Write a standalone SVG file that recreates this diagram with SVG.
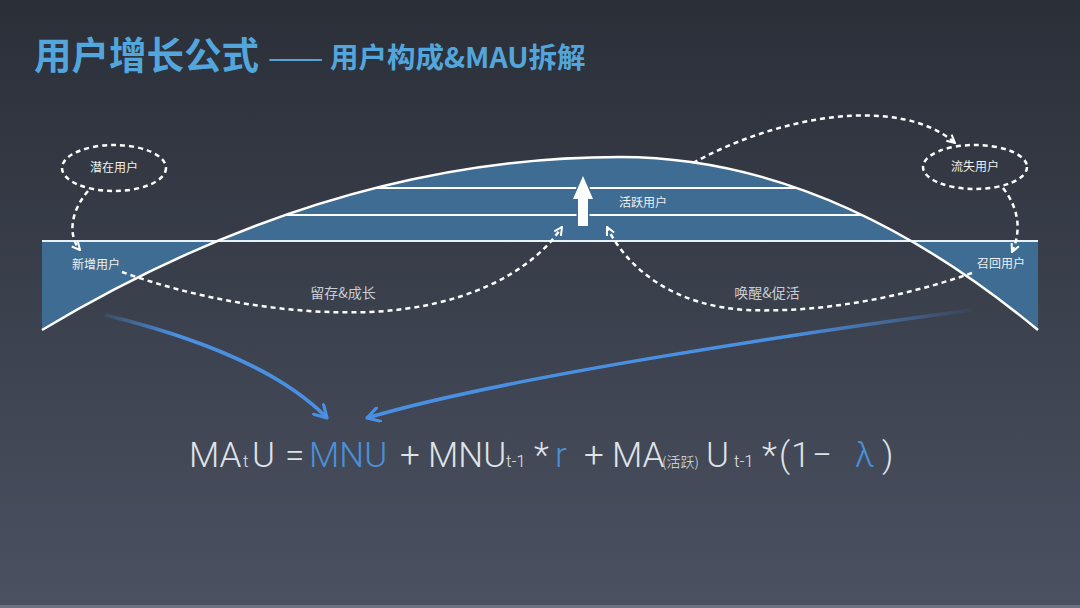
<svg xmlns="http://www.w3.org/2000/svg" width="1080" height="608" viewBox="0 0 1080 608">
  <defs>
    <linearGradient id="bg" x1="0" y1="0" x2="0" y2="1">
      <stop offset="0" stop-color="#2a2f38"/>
      <stop offset="1" stop-color="#4b5161"/>
    </linearGradient>
    <linearGradient id="blueL" gradientUnits="userSpaceOnUse" x1="105" y1="315" x2="327" y2="418">
      <stop offset="0" stop-color="#4a90e2" stop-opacity="0.15"/>
      <stop offset="0.3" stop-color="#4a90e2" stop-opacity="1"/>
      <stop offset="1" stop-color="#4a90e2"/>
    </linearGradient>
    <linearGradient id="blueR" gradientUnits="userSpaceOnUse" x1="972" y1="310" x2="367" y2="418">
      <stop offset="0" stop-color="#4a90e2" stop-opacity="0.05"/>
      <stop offset="0.3" stop-color="#4a90e2" stop-opacity="1"/>
      <stop offset="1" stop-color="#4a90e2"/>
    </linearGradient>
    <marker id="chev" viewBox="0 0 10 10" refX="9" refY="5" markerWidth="10" markerHeight="10" markerUnits="userSpaceOnUse" orient="auto">
      <path d="M1,1 L9,5 L1,9" fill="none" stroke="#ffffff" stroke-width="2"/>
    </marker>
    <marker id="bchev" viewBox="0 0 16 16" refX="14" refY="8" markerWidth="16" markerHeight="16" markerUnits="userSpaceOnUse" orient="auto">
      <path d="M2,1 L14,8 L2,15" fill="none" stroke="#4a90e2" stroke-width="3.2" stroke-linecap="round" stroke-linejoin="round"/>
    </marker>
    <style>
      .lbl { font-family: "Noto Sans CJK SC", "Noto Sans", sans-serif; font-size: 12px; fill: #f0f0f0; }
      .mid { font-family: "Noto Sans CJK SC", "Noto Sans", sans-serif; font-size: 14px; fill: #c9cdd3; }
      .dash { fill: none; stroke: #ffffff; stroke-width: 2.5; stroke-dasharray: 5 4; }
      .wline { stroke: #ffffff; stroke-width: 2.5; fill: none; }
      .f { font-family: Roboto, "Liberation Sans", sans-serif; font-weight: 300; font-size: 35px; fill: #dfe2e7; }
      .fs { font-size: 17px; }
      .fc { font-family: "Noto Sans CJK SC", sans-serif; font-size: 14px; }
      .fb { fill: #4a90d9; }
      .tt { font-family: "Noto Sans CJK SC", sans-serif; fill: #52a6dc; }
    </style>
  </defs>

  <rect x="0" y="0" width="1080" height="608" fill="url(#bg)"/>
  <rect x="0" y="605" width="1080" height="3" fill="#6b7282"/>

  <g id="title">
    <text x="34" y="69" class="tt" font-weight="bold" font-size="37.5">用户增长公式</text>
    <text x="268" y="69" class="tt" font-size="33">——</text>
    <text x="330" y="68" class="tt" font-weight="bold" font-size="28.5">用户构成&amp;MAU拆解</text>
  </g>

  <g id="funnel">
    <path d="M42,330 Q331,157 620,157 Q829,157 1038,330 Z M42,241 H1038 V330 H42 Z" fill="#3f6c92" fill-rule="evenodd"/>
    <line x1="42" y1="241" x2="1038" y2="241" stroke="#e6f2f7" stroke-width="2.2"/>
    <line x1="375" y1="188" x2="797" y2="188" stroke="#ffffff" stroke-width="2.2"/>
    <line x1="285" y1="215" x2="862" y2="215" stroke="#ffffff" stroke-width="2.2"/>
    <path d="M42,330 Q331,157 620,157 Q829,157 1038,330" class="wline"/>
    <path d="M583,176 L593,199 L588,199 L588,226 L578,226 L578,199 L573,199 Z" fill="#ffffff" stroke="#3f6c92" stroke-width="3" paint-order="stroke"/>
  </g>

  <g id="potential-users">
    <ellipse cx="114" cy="168" rx="52" ry="23" class="dash"/>
    <text x="114" y="172" text-anchor="middle" class="lbl">潜在用户</text>
  </g>
  <g id="new-users">
    <text x="96" y="269" text-anchor="middle" class="lbl">新增用户</text>
  </g>
  <g id="active-users">
    <text x="643" y="207" text-anchor="middle" class="lbl">活跃用户</text>
  </g>
  <g id="lost-users">
    <ellipse cx="975" cy="167" rx="52" ry="22" class="dash"/>
    <text x="975" y="171" text-anchor="middle" class="lbl">流失用户</text>
  </g>
  <g id="recall-users">
    <text x="1001" y="268" text-anchor="middle" class="lbl">召回用户</text>
  </g>

  <g id="connectors">
    <path d="M88,191 C70,212 68,236 80,250" class="dash" marker-end="url(#chev)"/>
    <path d="M122,272 C200,300 290,315 370,312 C460,308 530,275 562,227" class="dash" marker-end="url(#chev)"/>
    <text x="343" y="298" text-anchor="middle" class="mid">留存&amp;成长</text>
    <path d="M972,273 C900,298 820,313 747,310 C675,306 628,270 607,227" class="dash" marker-end="url(#chev)"/>
    <text x="767" y="298" text-anchor="middle" class="mid">唤醒&amp;促活</text>
    <path d="M693,163 C780,115 900,95 955,143" class="dash" marker-end="url(#chev)"/>
    <path d="M1003,188 C1020,210 1021,232 1012,252" class="dash" marker-end="url(#chev)"/>
    <path d="M105,315 C200,338 282,372 327,418" fill="none" stroke="url(#blueL)" stroke-width="3.5" marker-end="url(#bchev)"/>
    <path d="M972,310 C800,333 500,378 367,418" fill="none" stroke="url(#blueR)" stroke-width="3.5" marker-end="url(#bchev)"/>
  </g>

  <g id="formula">
    <text class="f" y="467"><tspan x="189">MA</tspan><tspan class="fs" x="243">t</tspan><tspan x="252">U</tspan><tspan x="285">=</tspan><tspan class="fb" x="309">MNU</tspan><tspan x="400">+</tspan><tspan x="428">MNU</tspan><tspan class="fs" x="506">t-1</tspan><tspan x="534">*</tspan><tspan class="fb" x="555">r</tspan><tspan x="584">+</tspan><tspan x="612">MA</tspan><tspan class="fc" x="662">(活跃)</tspan><tspan x="706">U</tspan><tspan class="fs" x="734">t-1</tspan><tspan x="762">*</tspan><tspan x="779">(</tspan><tspan x="791">1</tspan><tspan x="812">−</tspan><tspan class="fb" x="855">λ</tspan><tspan x="882">)</tspan></text>
  </g>
</svg>
